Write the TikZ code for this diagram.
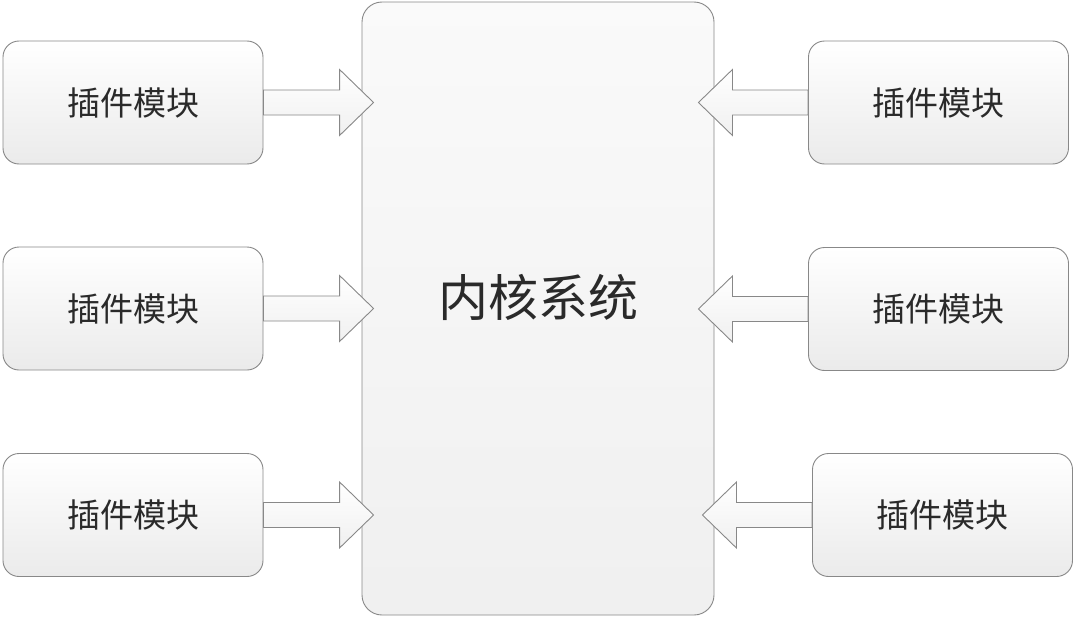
\documentclass[tikz,border=0pt]{standalone}
\usepackage{fontspec}
\newfontfamily\cjk{Noto Sans CJK SC}
\usetikzlibrary{calc}
\definecolor{edge}{HTML}{888888}
\definecolor{ink}{HTML}{2A2A2A}
\tikzset{
  module/.style={draw=edge, line width=0.9pt, rounded corners=16pt,
    top color=white, bottom color=black!8, minimum width=260pt,
    minimum height=123pt, text=ink, font=\cjk\fontsize{33}{33}\selectfont},
  core/.style={draw=edge, line width=0.9pt, rounded corners=20pt,
    top color=black!2, bottom color=black!6, minimum width=352pt,
    minimum height=613pt},
  blockarrow/.style={draw=edge, line width=0.9pt, top color=white,
    bottom color=black!6, line join=miter},
  coretext/.style={text=ink, font=\cjk\fontsize{50}{50}\selectfont}
}
% block arrow from the anchor #1 to the tip #2 (horizontal)
\newcommand\blockarr[2]{%
  \path[blockarrow] let \p1=(#1), \p2=(#2), \n1={sign(\x2-\x1)} in
    (\x1,\y1+12.5pt) -- (\x2-\n1*34pt,\y1+12.5pt) -- (\x2-\n1*34pt,\y1+33pt)
    -- (\x2,\y1) -- (\x2-\n1*34pt,\y1-33pt) -- (\x2-\n1*34pt,\y1-12.5pt)
    -- (\x1,\y1-12.5pt) -- cycle;}
\begin{document}
\begin{tikzpicture}[x=1pt,y=-1pt]
  \useasboundingbox (0,0) rectangle (1080,621);
  \fill[white] (0,0) rectangle (1080,621);
  % kernel
  \node[core] (C) at (538,308.5) {};
  \node[coretext] (Ct) at (538,297) {内核系统};
  % modules
  \node[module] (L1) at (133,102.5) {插件模块};
  \node[module] (L2) at (133,308.5) {插件模块};
  \node[module] (L3) at (133,515) {插件模块};
  \node[module] (R1) at (938.5,102.5) {插件模块};
  \node[module] (R2) at (938.5,309) {插件模块};
  \node[module] (R3) at (942.5,515) {插件模块};
  % arrows into the kernel
  \coordinate (tL1) at ($(C.west|-L1.east)+(12,0)$);
  \coordinate (tL2) at ($(C.west|-L2.east)+(12,0)$);
  \coordinate (tL3) at ($(C.west|-L3.east)+(12,0)$);
  \coordinate (tR1) at ($(C.east|-R1.west)+(-16,0)$);
  \coordinate (tR2) at ($(C.east|-R2.west)+(-16,0)$);
  \coordinate (tR3) at ($(C.east|-R3.west)+(-12,0)$);
  \blockarr{L1.east}{tL1}
  \blockarr{L2.east}{tL2}
  \blockarr{L3.east}{tL3}
  \blockarr{R1.west}{tR1}
  \blockarr{R2.west}{tR2}
  \blockarr{R3.west}{tR3}
\end{tikzpicture}
\end{document}
